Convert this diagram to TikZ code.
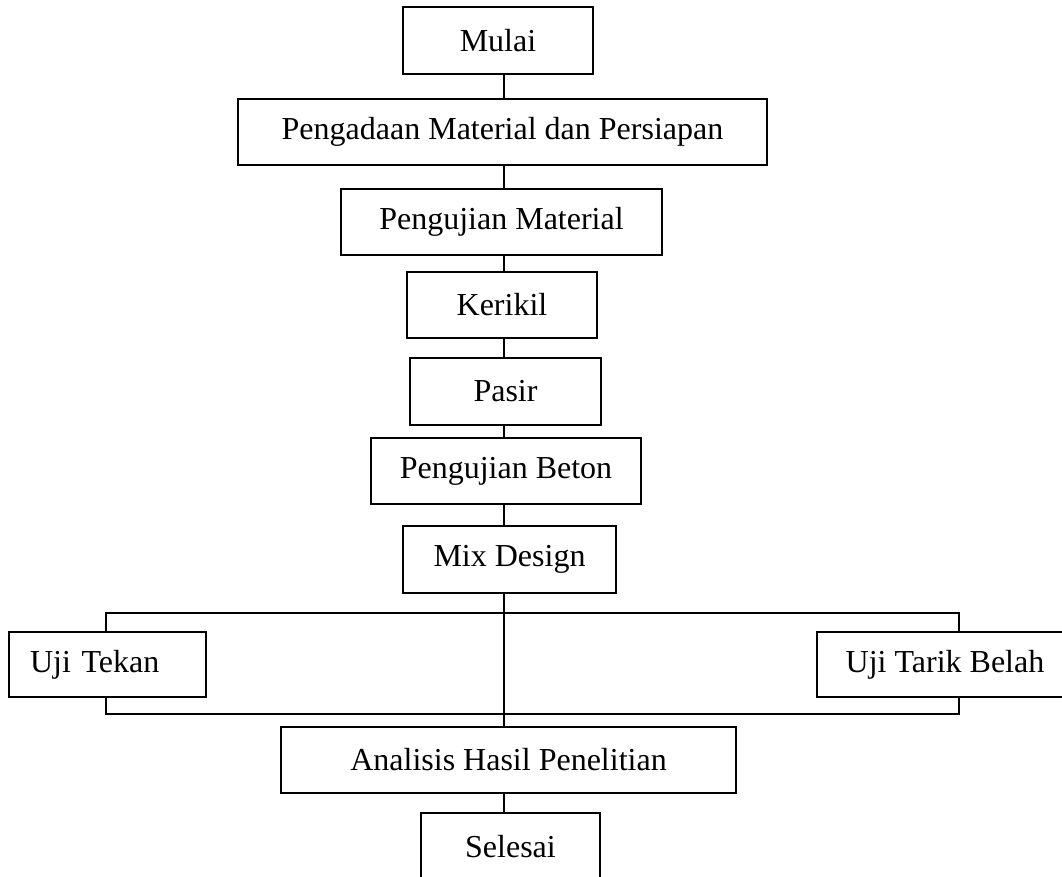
\documentclass[tikz,border=0pt]{standalone}
\usepackage{fontspec}
\setmainfont{Liberation Serif}
\begin{document}
\begin{tikzpicture}[x=1pt,y=-1pt,
  box/.style={draw=black,line width=1.2pt,inner sep=0pt,align=center,
    font=\fontsize{32}{37}\selectfont},
  link/.style={line width=1.4pt},
  spinelink/.style={line width=2.2pt}]
\useasboundingbox (0,0) rectangle (1062,876);
\clip (0,0) rectangle (1062,876);
\fill[white] (0,0) rectangle (1062,876);
\coordinate (spine) at (504,0);
\coordinate (ltop) at (106,613);
\coordinate (rtop) at (959,613);
\coordinate (lbot) at (106,714);
\coordinate (rbot) at (959,714);

\node[box,minimum width=190pt,minimum height=67pt] (mulai) at (498,40.5) {Mulai};
\node[box,minimum width=529pt,minimum height=66pt] (pengadaan) at (502.5,132) {Pengadaan Material dan Persiapan};
\node[box,minimum width=321pt,minimum height=66pt] (pmat) at (501.5,222) {Pengujian Material};
\node[box,minimum width=190pt,minimum height=66pt] (kerikil) at (502,305) {Kerikil};
\node[box,minimum width=191pt,minimum height=67pt] (pasir) at (505.5,391.5) {Pasir};
\node[box,minimum width=270pt,minimum height=66pt] (pbeton) at (506,471) {Pengujian Beton};
\node[box,minimum width=213pt,minimum height=67pt] (mix) at (509.5,559.5) {Mix Design};
\node[box,inner xsep=21pt,text width=155pt,align=left,minimum height=65pt] (tekan) at (107.5,664.5) {Uji Tekan};
\node[box,minimum width=256pt,minimum height=65pt] (tarik) at (945,664.5) {Uji Tarik Belah};
\node[box,minimum width=455pt,minimum height=66pt] (analisis) at (508.5,760) {Analisis Hasil Penelitian};
\node[box,minimum width=179pt,minimum height=67pt] (selesai) at (510.5,846.5) {Selesai};

\draw[link] (spine |- mulai.south) -- (spine |- pengadaan.north);
\draw[link] (spine |- pengadaan.south) -- (spine |- pmat.north);
\draw[link] (spine |- pmat.south) -- (spine |- kerikil.north);
\draw[link] (spine |- kerikil.south) -- (spine |- pasir.north);
\draw[link] (spine |- pasir.south) -- (spine |- pbeton.north);
\draw[link] (spine |- pbeton.south) -- (spine |- mix.north);
\draw[spinelink] (spine |- mix.south) -- (spine |- analisis.north);
\draw[link] (ltop |- tekan.north) -- (ltop) -- (rtop) -- (rtop |- tarik.north);
\draw[link] (lbot |- tekan.south) -- (lbot) -- (rbot) -- (rbot |- tarik.south);
\draw[link] (spine |- analisis.south) -- (spine |- selesai.north);
\end{tikzpicture}
\end{document}
